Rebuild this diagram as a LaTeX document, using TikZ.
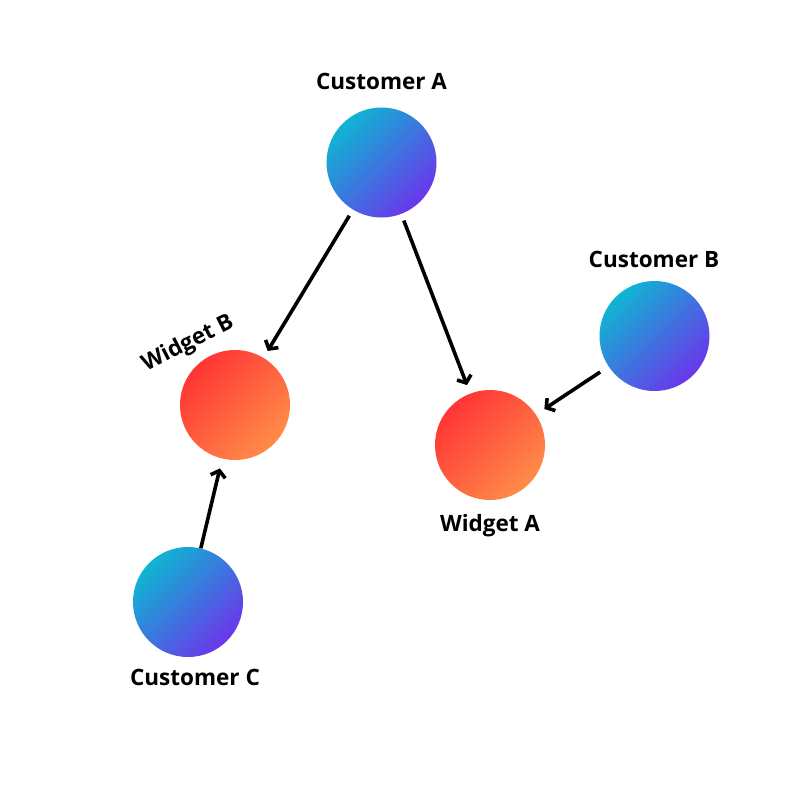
\documentclass[tikz,border=0pt]{standalone}
\usepackage{fontspec}
\setmainfont{Open Sans}
\usetikzlibrary{arrows.meta}
\definecolor{cyanA}{HTML}{0FB5D3}
\definecolor{purpA}{HTML}{6B36EA}
\definecolor{redA}{HTML}{FF3535}
\definecolor{orgA}{HTML}{FF8C48}
\begin{document}
\begin{tikzpicture}[x=1pt,y=-1pt,
  cust/.style={circle,minimum size=110pt,inner sep=0pt,top color=cyanA,bottom color=purpA,shading angle=45},
  widg/.style={circle,minimum size=110pt,inner sep=0pt,top color=redA,bottom color=orgA,shading angle=45},
  lbl/.style={font=\fontsize{22.5}{26}\selectfont\bfseries,anchor=base,inner sep=0pt},
  conn/.style={line width=3.6pt,-{Straight Barb[length=6pt,width=15pt]}}]
\useasboundingbox[fill=white] (0,0) rectangle (800,800);
\node[cust] (ca) at (381.5,162.5) {};
\node[cust] (cb) at (654.5,336) {};
\node[cust] (cc) at (188,602) {};
\node[widg] (wb) at (235,405) {};
\node[widg] (wa) at (490,445) {};
\node[lbl] (lca) at (381.5,89) {Customer A};
\node[lbl] (lcb) at (654,267.5) {Customer B};
\node[lbl] (lcc) at (195,685) {Customer C};
\node[lbl] (lwa) at (490,531) {Widget A};
\node[font=\fontsize{22.5}{26}\selectfont\bfseries,inner sep=0pt,rotate=27] (lwb) at (188,344) {Widget B};
\draw[conn,shorten <=7pt,shorten >=8pt] (ca) -- (wb);
\draw[conn,shorten <=7pt,shorten >=9pt] (ca) -- (wa);
\draw[conn,shorten <=10pt,shorten >=10pt] (cb) -- (wa);
\draw[conn,shorten <=0pt,shorten >=10pt] (cc) -- (wb);
\end{tikzpicture}
\end{document}
